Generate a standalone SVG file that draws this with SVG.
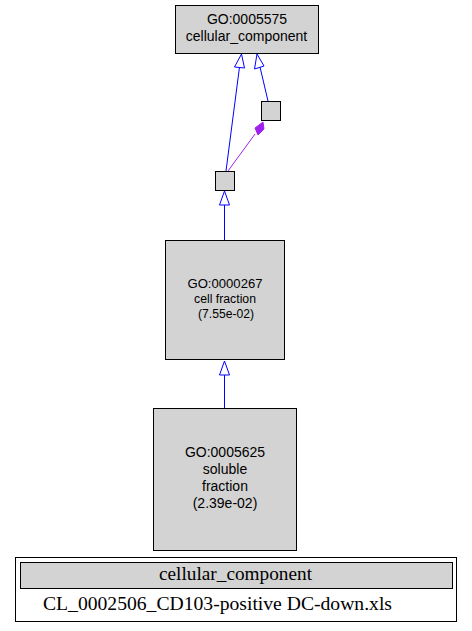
<svg xmlns="http://www.w3.org/2000/svg" width="472" height="631" viewBox="0 0 472 631">
<style>
.n{fill:#d3d3d3;stroke:#000;stroke-width:1}
.t{font-family:"Liberation Sans",Arial,sans-serif;text-anchor:middle;fill:#000}
.s{font-family:"Liberation Serif","Times New Roman",serif;fill:#000}
.e{stroke:#0000ff;stroke-width:1;fill:none}
.h{fill:#fff;stroke:#0000ff;stroke-width:1}
</style>
<rect width="472" height="631" fill="#fff"/>
<g id="edges">
<line class="e" x1="226" y1="171" x2="239.5" y2="67"/>
<polygon class="h" points="241.5,54 234.5,67 244.5,68"/>
<line class="e" x1="268" y1="101" x2="260" y2="67"/>
<polygon class="h" points="257,54 254.5,69 264,66"/>
<line x1="228" y1="171" x2="255" y2="134" stroke="#a020f0" stroke-width="1"/>
<polygon points="263,122 264,129 258,135 255,128" fill="#a020f0" stroke="#a020f0" stroke-width="1"/>
<line class="e" x1="224.5" y1="240" x2="224.5" y2="205"/>
<polygon class="h" points="224.5,191 219.5,205 229.5,205"/>
<line class="e" x1="224.5" y1="408" x2="224.5" y2="375"/>
<polygon class="h" points="224.5,361 219.5,375 229.5,375"/>
</g>
<g id="GO0005575">
<rect class="n" x="175.5" y="5.5" width="143" height="48"/>
<text class="t" x="247" y="24" font-size="14">GO:0005575</text>
<text class="t" x="246.5" y="41" font-size="14">cellular_component</text>
</g>
<g id="nodeA">
<rect class="n" x="261.5" y="101.5" width="19" height="19"/>
</g>
<g id="nodeB">
<rect class="n" x="215.5" y="171.5" width="19" height="19"/>
</g>
<g id="GO0000267">
<rect class="n" x="165.5" y="240.5" width="119" height="119"/>
<text class="t" x="225" y="288" font-size="12" textLength="75" lengthAdjust="spacingAndGlyphs">GO:0000267</text>
<text class="t" x="225" y="303" font-size="12" textLength="62" lengthAdjust="spacingAndGlyphs">cell fraction</text>
<text class="t" x="226" y="318" font-size="12" textLength="56" lengthAdjust="spacingAndGlyphs">(7.55e-02)</text>
</g>
<g id="GO0005625">
<rect class="n" x="153.5" y="408.5" width="143" height="142"/>
<text class="t" x="225" y="457" font-size="14">GO:0005625</text>
<text class="t" x="225" y="474" font-size="14">soluble</text>
<text class="t" x="225" y="491" font-size="14">fraction</text>
<text class="t" x="225" y="508" font-size="14">(2.39e-02)</text>
</g>
<g id="legend">
<rect x="15.5" y="557.5" width="441" height="64" fill="#fff" stroke="#000"/>
<rect x="20.5" y="562.5" width="432" height="26" fill="#d3d3d3" stroke="#000"/>
<text class="s" x="159" y="580" font-size="18" textLength="153" lengthAdjust="spacingAndGlyphs">cellular_component</text>
<text class="s" x="43" y="610" font-size="18" textLength="349" lengthAdjust="spacingAndGlyphs">CL_0002506_CD103-positive DC-down.xls</text>
</g>
</svg>
